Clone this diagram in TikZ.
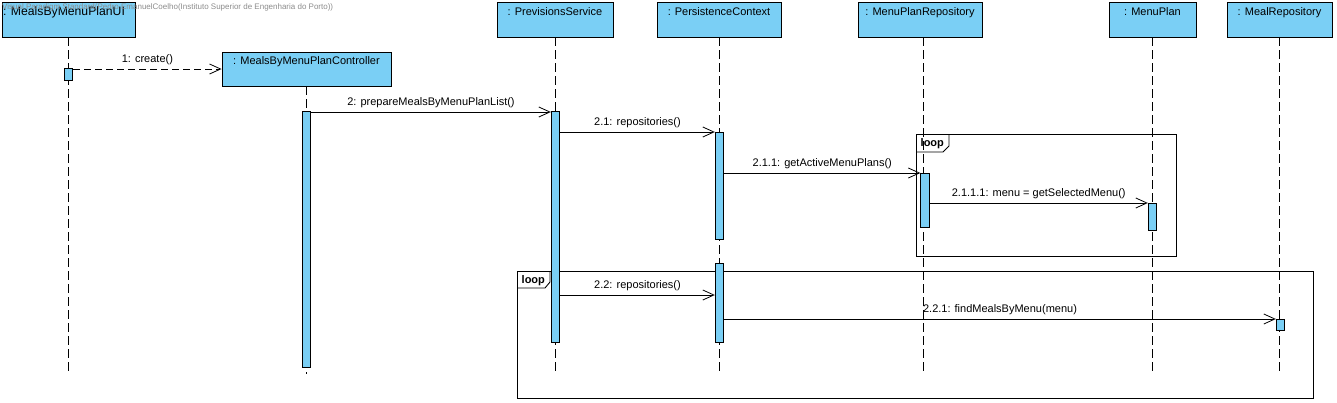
\documentclass[tikz,border=0pt]{standalone}
\usepackage{fontspec}
\usepackage{graphicx}
\setmainfont{Liberation Sans}
\usetikzlibrary{arrows.meta}
\definecolor{vpblue}{RGB}{122,207,245}
\definecolor{wmgray}{RGB}{140,140,140}
\begin{document}
\begin{tikzpicture}[x=1pt,y=-1pt,
  objbox/.style={draw=black, fill=vpblue, line width=0.9pt, inner sep=0pt},
  hdr/.style={anchor=base, inner sep=0pt, font=\fontsize{11}{13}\selectfont},
  actbar/.style={draw=black, fill=vpblue, line width=0.9pt, inner sep=0pt, minimum width=8.5pt},
  lifeline/.style={draw=black, line width=0.9pt, dash pattern=on 9pt off 4pt},
  msg/.style={draw=black, line width=0.8pt, -{Straight Barb[length=11pt,width=10pt,line width=0.8pt]}},
  createmsg/.style={msg, dash pattern=on 7pt off 4pt},
  lbl/.style={anchor=base, inner sep=0pt, font=\fontsize{11}{13}\selectfont, yshift=7pt},
  frame/.style={draw=black, line width=0.9pt},
  looplbl/.style={anchor=base west, inner sep=0pt, font=\bfseries\fontsize{11}{13}\selectfont}
]
\useasboundingbox (0,0) rectangle (1337,402);

% loop frames
\draw[frame] (916,134) rectangle (1176,256);
\draw[frame] (916,152) -- (943,152) -- (949,146) -- (949,134);
\node[looplbl] (loop1) at (920.5,146) {loop};
\draw[frame] (517,271) rectangle (1313,398);
\draw[frame] (517,288) -- (545,288) -- (550,282) -- (550,271);
\node[looplbl] (loop2) at (521.5,283) {loop};

% lifeline heads
\node[objbox, minimum width=133pt, minimum height=35pt] (ui) at (68.5,19.5) {};
\node[objbox, minimum width=169pt, minimum height=34pt] (ctrl) at (306.5,69) {};
\node[objbox, minimum width=116pt, minimum height=35pt] (prev) at (555,19.5) {};
\node[objbox, minimum width=124pt, minimum height=35pt] (pc) at (719,19.5) {};
\node[objbox, minimum width=124pt, minimum height=35pt] (mpr) at (920,19.5) {};
\node[objbox, minimum width=87pt, minimum height=35pt] (mp) at (1152.5,19.5) {};
\node[objbox, minimum width=105pt, minimum height=35pt] (mr) at (1279.5,19.5) {};

\node[hdr, font=\fontsize{12.2}{14}\selectfont] (uit) at (64,15) {: MealsByMenuPlanUI};
\node[hdr] (ctrlt) at (306.5,64) {: MealsByMenuPlanController};
\node[hdr] (prevt) at (555,15) {: PrevisionsService};
\node[hdr] (pct) at (719,15) {: PersistenceContext};
\node[hdr] (mprt) at (920,15) {: MenuPlanRepository};
\node[hdr] (mpt) at (1152.5,15) {: MenuPlan};
\node[hdr] (mrt) at (1279.5,15) {: MealRepository};

% lifeline ends
\coordinate (uiend) at (68,374);
\coordinate (ctrlend) at (306.5,374);
\coordinate (prevend) at (555,374);
\coordinate (pcend) at (719,374);
\coordinate (mprend) at (923.5,374);
\coordinate (mpend) at (1152.5,374);
\coordinate (mrend) at (1279.5,374);

\draw[lifeline] (ui.south -| uiend) -- (uiend);
\draw[lifeline] (ctrl.south) -- (ctrlend);
\draw[lifeline] (prev.south) -- (prevend);
\draw[lifeline] (pc.south) -- (pcend);
\draw[lifeline] (mpr.south -| mprend) -- (mprend);
\draw[lifeline] (mp.south) -- (mpend);
\draw[lifeline] (mr.south) -- (mrend);

% activation bars
\node[actbar, minimum height=12pt] (uibar) at (68.5,74) {};
\node[actbar, minimum height=256pt] (ctrlbar) at (306.5,239) {};
\node[actbar, minimum height=231pt] (prevbar) at (555.5,226.5) {};
\node[actbar, minimum height=107pt] (pcbar1) at (719.5,185.5) {};
\node[actbar, minimum height=54pt] (mprbar) at (925,200) {};
\node[actbar, minimum height=27pt] (mpbar) at (1152.5,216.5) {};
\node[actbar, minimum height=79pt] (pcbar2) at (719.5,302.5) {};
\node[actbar, minimum height=11pt] (mrbar) at (1280.5,324.5) {};

% messages
\draw[createmsg] (uibar.east |- 0,69) -- (ctrl.west |- 0,69) node[lbl, midway] (m1) {1: create()};
\draw[msg] (ctrlbar.east |- 0,112) -- (prevbar.west |- 0,112) node[lbl, midway] (m2) {2: prepareMealsByMenuPlanList()};
\draw[msg] (prevbar.east |- 0,132) -- (pcbar1.west |- 0,132) node[lbl, midway] (m21) {2.1: repositories()};
\draw[msg] (pcbar1.east |- 0,173) -- (mprbar.west |- 0,173) node[lbl, midway] (m211) {2.1.1: getActiveMenuPlans()};
\draw[msg] (mprbar.east |- 0,203) -- (mpbar.west |- 0,203) node[lbl, midway] (m2111) {2.1.1.1: menu = getSelectedMenu()};
\draw[msg] (prevbar.east |- 0,295) -- (pcbar2.west |- 0,295) node[lbl, midway] (m22) {2.2: repositories()};
\draw[msg] (pcbar2.east |- 0,319) -- (mrbar.west |- 0,319) node[lbl, midway] (m221) {2.2.1: findMealsByMenu(menu)};

% watermark
\node[anchor=base west, inner sep=0pt, text=wmgray] (wm) at (2,9) {\resizebox{331pt}{!}{\fontsize{7}{8}\selectfont Visual Paradigm Standard(Pedro EmanuelCoelho(Instituto Superior de Engenharia do Porto))}};
\end{tikzpicture}
\end{document}
